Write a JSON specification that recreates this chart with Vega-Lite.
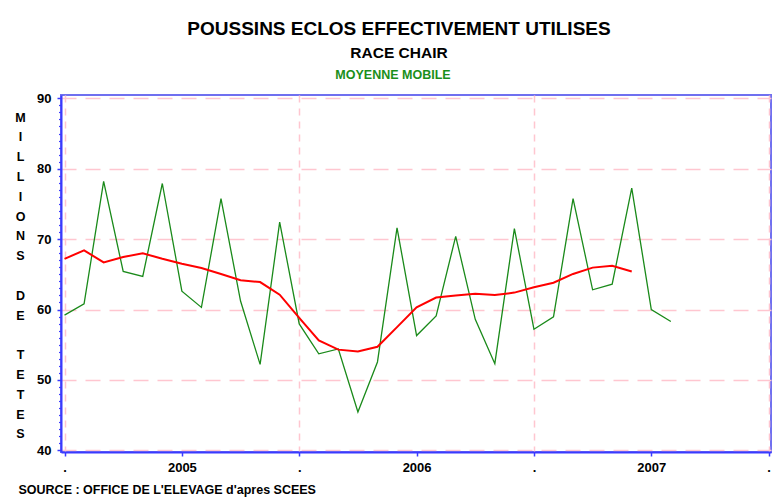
{
  "$schema": "https://vega.github.io/schema/vega-lite/v6.json",
  "background": "white",
  "padding": {"left": 13, "top": 20, "right": 0, "bottom": 0},
  "title": {
    "text": "POUSSINS ECLOS EFFECTIVEMENT UTILISES",
    "subtitle": "RACE CHAIR",
    "font": "Liberation Sans",
    "fontSize": 19,
    "fontWeight": "bold",
    "color": "black",
    "subtitleFont": "Liberation Sans",
    "subtitleFontSize": 15.5,
    "subtitleFontWeight": "bold",
    "subtitleColor": "black",
    "subtitlePadding": 7,
    "anchor": "middle",
    "frame": "group",
    "dx": -17,
    "offset": 6
  },
  "vconcat": [
    {
      "width": 710,
      "height": 357,
      "title": {
        "text": "MOYENNE MOBILE",
        "font": "Liberation Sans",
        "fontSize": 12.5,
        "fontWeight": "bold",
        "color": "#1a8f1a",
        "anchor": "middle",
        "frame": "group",
        "dx": -23,
        "offset": 11
      },
      "data": {
        "values": [
          {"i": 0, "brut": 59.2, "mm": 67.2},
          {"i": 1, "brut": 60.8, "mm": 68.4},
          {"i": 2, "brut": 78.2, "mm": 66.7},
          {"i": 3, "brut": 65.4, "mm": 67.45},
          {"i": 4, "brut": 64.7, "mm": 68.0},
          {"i": 5, "brut": 77.9, "mm": 67.2},
          {"i": 6, "brut": 62.6, "mm": 66.5},
          {"i": 7, "brut": 60.3, "mm": 65.9},
          {"i": 8, "brut": 75.75, "mm": 65.05},
          {"i": 9, "brut": 61.2, "mm": 64.15},
          {"i": 10, "brut": 52.2, "mm": 63.9},
          {"i": 11, "brut": 72.4, "mm": 62.1},
          {"i": 12, "brut": 57.95, "mm": 58.8},
          {"i": 13, "brut": 53.7, "mm": 55.6},
          {"i": 14, "brut": 54.4, "mm": 54.3},
          {"i": 15, "brut": 45.45, "mm": 54.05},
          {"i": 16, "brut": 52.55, "mm": 54.7},
          {"i": 17, "brut": 71.6, "mm": 57.5},
          {"i": 18, "brut": 56.3, "mm": 60.3},
          {"i": 19, "brut": 59.1, "mm": 61.7},
          {"i": 20, "brut": 70.4, "mm": 62.0},
          {"i": 21, "brut": 58.6, "mm": 62.25},
          {"i": 22, "brut": 52.3, "mm": 62.05},
          {"i": 23, "brut": 71.5, "mm": 62.4},
          {"i": 24, "brut": 57.2, "mm": 63.15},
          {"i": 25, "brut": 58.95, "mm": 63.8},
          {"i": 26, "brut": 75.75, "mm": 65.05},
          {"i": 27, "brut": 62.8, "mm": 65.95},
          {"i": 28, "brut": 63.6, "mm": 66.2},
          {"i": 29, "brut": 77.25, "mm": 65.4},
          {"i": 30, "brut": 60.0, "mm": null},
          {"i": 31, "brut": 58.3, "mm": null}
        ]
      },
      "layer": [
        {
          "mark": {"type": "line", "color": "#1a8a1a", "strokeWidth": 1.3},
          "encoding": {
            "x": {
              "field": "i",
              "type": "quantitative",
              "scale": {"domain": [-0.18, 36.12], "nice": false, "zero": false},
              "axis": {
                "values": [0, 6, 12, 18, 24, 30, 36],
                "tickCount": 50,
                "labelExpr": "datum.value == 6 ? '2005' : datum.value == 18 ? '2006' : datum.value == 30 ? '2007' : '.'",
                "labelFlush": false,
                "labelOverlap": false,
                "labelBaseline": "alphabetic",
                "labelPadding": 15.5,
                "tickSize": 4,
                "grid": true,
                "gridDash": [7, 6],
                "gridOpacity": {"condition": {"test": "datum.value % 12 === 0", "value": 1}, "value": 0},
                "title": "SOURCE : OFFICE DE L'ELEVAGE d'apres SCEES",
                "titleX": -43,
                "titleY": 41,
                "titleAnchor": "start",
                "titleAlign": "left",
                "titleBaseline": "alphabetic"
              }
            },
            "y": {
              "field": "brut",
              "type": "quantitative",
              "scale": {"domain": [39.76, 90.47], "nice": false, "zero": false},
              "axis": {
                "orient": "left",
                "values": [40, 41, 42, 43, 44, 45, 46, 47, 48, 49, 50, 51, 52, 53, 54, 55, 56, 57, 58, 59, 60, 61, 62, 63, 64, 65, 66, 67, 68, 69, 70, 71, 72, 73, 74, 75, 76, 77, 78, 79, 80, 81, 82, 83, 84, 85, 86, 87, 88, 89, 90],
                "tickCount": 100,
                "format": "d",
                "labelExpr": "datum.value % 10 === 0 ? format(datum.value, 'd') : ''",
                "labelOverlap": false,
                "labelFlush": false,
                "labelPadding": 6,
                "tickSize": {"condition": {"test": "datum.value % 10 === 0", "value": 4}, "value": 2.5},
                "tickWidth": {"condition": {"test": "datum.value % 10 === 0", "value": 1.5}, "value": 1.2},
                "grid": true,
                "gridDash": [15, 9],
                "gridOpacity": {"condition": {"test": "datum.value % 10 === 0", "value": 1}, "value": 0},
                "title": ["M", "I", "L", "L", "I", "O", "N", "S", "\u2800", "D", "E", "\u2800", "T", "E", "T", "E", "S"],
                "titleAngle": 0,
                "titleX": -41,
                "titleY": 26,
                "titleAlign": "center",
                "titleBaseline": "alphabetic",
                "titleLineHeight": 19.8,
                "titleAnchor": "start"
              }
            }
          }
        },
        {
          "mark": {"type": "line", "color": "#ff0000", "strokeWidth": 2},
          "encoding": {
            "x": {"field": "i", "type": "quantitative"},
            "y": {"field": "mm", "type": "quantitative"}
          }
        }
      ]
    }
  ],
  "config": {
    "view": {"stroke": "#7070f0", "strokeWidth": 2},
    "axis": {
      "domainColor": "#3a3aff",
      "domainWidth": 2,
      "tickColor": "#3a3aff",
      "tickWidth": 1.5,
      "gridColor": "#ffc6d0",
      "gridWidth": 1.5,
      "labelFont": "Liberation Sans",
      "labelFontSize": 13,
      "labelFontWeight": "bold",
      "labelColor": "black",
      "titleFont": "Liberation Sans",
      "titleFontSize": 12.5,
      "titleFontWeight": "bold",
      "titleColor": "black"
    }
  }
}
